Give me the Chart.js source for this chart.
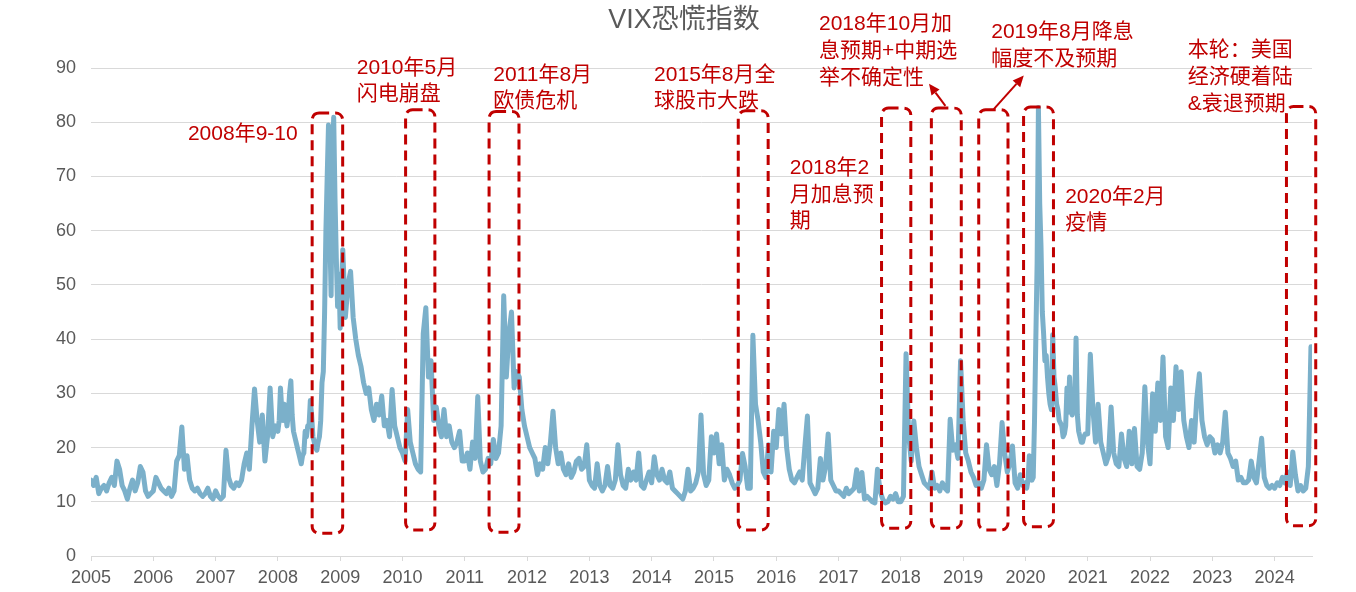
<!DOCTYPE html>
<html>
<head>
<meta charset="utf-8">
<title>VIX恐慌指数</title>
<script src="https://cdn.jsdelivr.net/npm/chart.js@4.4.1/dist/chart.umd.min.js"></script>
<style>
  html, body { margin: 0; padding: 0; background: #fff; }
  #wrap { width: 1356px; height: 592px; }
</style>
</head>
<body>
<div id="wrap"><canvas id="vixChart" width="1356" height="592"></canvas></div>
<script>
// VIX: two readings a month, weekly in the 2008 and 2020 crises
var years = [2005,2006,2007,2008,2009,2010,2011,2012,2013,2014,2015,2016,2017,2018,2019,2020,2021,2022,2023,2024]
var readingsPerYear = [24,24,24,48,24,24,24,24,24,24,24,24,24,24,24,48,24,24,24,24]
var vix2005 = [14,13,14.5,11.5,12.5,13,12,13.5,14.5,13,17.5,16,13,12,10.5,12.5,14,12,13.5,16.5,15.5,12,11,11.5]
var vix2006 = [12,14.5,13.5,12.5,12,11.5,12.5,11,12,17.5,18.5,23.8,16,18.5,14,12.5,12,12.5,11.5,11,11.5,12.5,11,10.5]
var vix2007 = [12,11,10.5,11,19.5,14.5,13,12.5,13.5,13,14,17,19,16,24,30.8,25,21,26,17.5,22,31,22,24]
var vix2008 = [23,25,31,27, 25,28,26,24, 26,30,32.3,26, 23,22,21,20, 19,18,17,18.5, 19,23,22,24,
               24,28.7,26,22, 21,20,19.5,21, 22,25,32,34, 45,60,70,79.5, 60,48,72,80.9, 66,55,46,52]
var vix2009 = [42,56.5,44,50,52.5,44,40,37,35,32,30,31,27,25,28,26,29.5,24,25,22,30.7,24,22,20]
var vix2010 = [19,17.5,27,21,19,17,16,15.5,41,45.8,33,36,25,27.5,24,22,27,22,24,21,20,21,23,17.5]
var vix2011 = [17.5,19,16,21,18,29.4,17.5,15.5,16,18,17,21.5,18,19,24,48,33,41,45,31,34,33,27,24]
var vix2012 = [22,20,19,18,15,17,16,20,17,21,26.7,20,17,19,16,15,17,14.5,15.5,17.5,18,16,16.5,20.5]
var vix2013 = [14,13,12.5,17,13,12,13,16.5,13,12.5,14,20.5,15,13,12.5,16,14,15.5,14,19,13,12.5,14,15.5]
var vix2014 = [13.5,18.3,15,14,16,14,13.5,15.5,12.5,12,11.5,11,10.5,12,16,12,12.5,13.5,15.5,26,15,13,14,22]
var vix2015 = [19,22.5,17,20.5,14,16,15,13.5,12.5,13,14,18.9,16.5,12.5,12.5,40.7,28,25,21,15.5,14.5,20.5,15.5,23]
var vix2016 = [20,27,22.5,28,20,16,14,13.5,14.5,15.5,14,20,25.8,13.5,12.5,11.5,12.5,18,14,16.5,22.5,14,13,12]
var vix2017 = [12,11.5,11,12.5,11.5,12,12.5,15.9,12,15.4,10.5,11,10.5,10,9.8,16,12,10.5,9.8,10,11,10.5,11.5,10]
var vix2018 = [10,11,37.3,22.5,17.5,24.9,20,16.5,15,13.5,13,12.5,15.5,12.5,13,12,13.5,12.5,12,25.2,19.5,20.5,18,36]
var vix2019 = [25,19,17.5,15.5,14.5,13,13.5,12.5,14,20.5,16,15,16.5,13,17,24.6,19,15.5,17,20.3,13.5,12.5,15,13]
var vix2020 = [13.5,12.5,14,18.5, 15,14,14.5,25, 40,54,82.7,65, 57,45,41,36, 37,33,30,28, 27,40.8,33,31,
               28,27,25,24.5, 24,22,22.5,24, 31,26.5,33,27, 26,27.5,29,40.2, 26,23,22,21, 21,22,22.5,22.5]
var vix2021 = [22.5,37.2,27,21,28,21,19,17,18.5,27.5,19,17,16.5,22.5,18,16.5,23,17,23.5,16.5,16,19,31.2,21]
var vix2022 = [17,29.9,23,31.9,25,36.7,22,20,31,25,34.9,27,34,25,22,20,25,21,29,33.6,25,22,20.5,22]
var vix2023 = [21.5,19,20.5,19,21,26.5,19,18,16.5,17.5,14,14.5,13.5,13.5,14,17.5,14.5,13.5,17.5,21.7,14.5,13,12.5,13]
var vix2024 = [12.5,13.5,13,14.5,13.5,15.5,13,19.2,15,12,13,12,12.5,16.5,38.6]
var vixByYear = [vix2005,vix2006,vix2007,vix2008,vix2009,vix2010,vix2011,vix2012,vix2013,vix2014,
                 vix2015,vix2016,vix2017,vix2018,vix2019,vix2020,vix2021,vix2022,vix2023,vix2024]
var yTicks = [0,10,20,30,40,50,60,70,80,90]

// event windows (years, index values) and their notes
var boxes = [
  { x0: 2008.55, x1: 2009.04, y0: 4.2, y1: 81.7 },
  { x0: 2010.05, x1: 2010.52, y0: 4.8, y1: 82.3 },
  { x0: 2011.39, x1: 2011.87, y0: 4.4, y1: 82.0 },
  { x0: 2015.39, x1: 2015.87, y0: 4.8, y1: 82.1 },
  { x0: 2017.69, x1: 2018.16, y0: 5.1, y1: 82.6 },
  { x0: 2018.49, x1: 2018.97, y0: 5.1, y1: 82.6 },
  { x0: 2019.25, x1: 2019.72, y0: 4.8, y1: 82.3 },
  { x0: 2019.97, x1: 2020.45, y0: 5.4, y1: 82.8 },
  { x0: 2024.19, x1: 2024.66, y0: 5.6, y1: 82.9 }
]
var notes = [
  { x: 2006.556, y: 77.7, lines: ['2008年9-10'] },
  { x: 2009.266, y: 90.0, lines: ['2010年5月', '闪电崩盘'] },
  { x: 2011.457, y: 88.7, lines: ['2011年8月', '欧债危机'] },
  { x: 2014.039, y: 88.7, lines: ['2015年8月全', '球股市大跌'] },
  { x: 2016.216, y: 71.5, lines: ['2018年2', '月加息预', '期'] },
  { x: 2016.686, y: 98.0, lines: ['2018年10月加', '息预期+中期选', '举不确定性'] },
  { x: 2019.451, y: 96.6, lines: ['2019年8月降息', '幅度不及预期'] },
  { x: 2020.638, y: 66.2, lines: ['2020年2月', '疫情'] },
  { x: 2022.604, y: 93.2, lines: ['本轮：美国', '经济硬着陆', '&衰退预期'] }
]
var arrows = [
  { from: [2018.715, 83.0], to: [2018.452, 87.1] },
  { from: [2019.492, 82.4], to: [2019.973, 88.6] }
]

var RED = '#c00000'
var FONT = '"Liberation Sans", Arial, "Noto Sans CJK SC", sans-serif'

var points = []
years.forEach(function(yr, k){
  var n = readingsPerYear[k]
  vixByYear[k].forEach(function(v, i){ points.push({ x: yr + i / n, y: v }) })
})

var annotations = {
  id: 'vixNotes',
  afterDatasetsDraw: function(chart){
    var ctx = chart.ctx
    var xs = chart.scales.x
    var ys = chart.scales.y
    ctx.save()

    // dashed windows
    ctx.strokeStyle = RED
    ctx.lineWidth = 3
    ctx.setLineDash([10, 6])
    boxes.forEach(function(b){
      var l = xs.getPixelForValue(b.x0), r = xs.getPixelForValue(b.x1)
      var t = ys.getPixelForValue(b.y1), btm = ys.getPixelForValue(b.y0)
      ctx.beginPath()
      ctx.roundRect(l, t, r - l, btm - t, 7)
      ctx.stroke()
    })
    ctx.setLineDash([])

    // arrows
    ctx.lineWidth = 2
    ctx.fillStyle = RED
    arrows.forEach(function(a){
      var x1 = xs.getPixelForValue(a.from[0]), y1 = ys.getPixelForValue(a.from[1])
      var x2 = xs.getPixelForValue(a.to[0]), y2 = ys.getPixelForValue(a.to[1])
      var ang = Math.atan2(y2 - y1, x2 - x1)
      var hl = 11, hw = 5
      var bx = x2 - hl * Math.cos(ang), by = y2 - hl * Math.sin(ang)
      ctx.beginPath()
      ctx.moveTo(x1, y1)
      ctx.lineTo(bx, by)
      ctx.stroke()
      ctx.beginPath()
      ctx.moveTo(x2, y2)
      ctx.lineTo(bx + hw * Math.sin(ang), by - hw * Math.cos(ang))
      ctx.lineTo(bx - hw * Math.sin(ang), by + hw * Math.cos(ang))
      ctx.closePath()
      ctx.fill()
    })

    // notes
    ctx.font = '21px ' + FONT
    ctx.textAlign = 'left'
    ctx.textBaseline = 'middle'
    notes.forEach(function(n){
      var px = xs.getPixelForValue(n.x), py = ys.getPixelForValue(n.y)
      n.lines.forEach(function(line, i){ ctx.fillText(line, px, py + i * 26.6) })
    })

    // title
    ctx.fillStyle = '#595959'
    ctx.font = '27px ' + FONT
    ctx.textAlign = 'center'
    ctx.fillText('VIX恐慌指数', 684, 21)
    ctx.restore()
  }
}

new Chart(document.getElementById('vixChart'), {
  type: 'line',
  data: {
    datasets: [{
      label: 'VIX',
      data: points,
      borderColor: '#7bb0ca',
      borderWidth: 5,
      pointRadius: 0,
      tension: 0,
      borderJoinStyle: 'round',
      borderCapStyle: 'round'
    }]
  },
  options: {
    responsive: false,
    animation: false,
    devicePixelRatio: 1,
    layout: { padding: { top: 68, right: 44, left: 0, bottom: 0 } },
    plugins: { legend: { display: false }, tooltip: { enabled: false }, title: { display: false } },
    scales: {
      x: {
        type: 'linear',
        min: 2005,
        max: 2024.6,
        afterBuildTicks: function(s){ s.ticks = years.map(function(y){ return { value: y } }) },
        afterFit: function(s){ s.height = 36 },
        grid: { drawOnChartArea: false, drawTicks: true, tickLength: 5, color: '#d9d9d9' },
        border: { display: true, color: '#d9d9d9', width: 1 },
        ticks: {
          color: '#595959', padding: 6, maxRotation: 0, autoSkip: false,
          font: { family: FONT, size: 18 },
          callback: function(v){ return String(v) }
        }
      },
      y: {
        min: 0,
        max: 90,
        afterBuildTicks: function(s){ s.ticks = yTicks.map(function(v){ return { value: v } }) },
        afterFit: function(s){ s.width = 91 },
        grid: { color: '#d9d9d9', lineWidth: 1, drawTicks: false },
        border: { display: false },
        ticks: { color: '#595959', padding: 15, font: { family: FONT, size: 18 } }
      }
    }
  },
  plugins: [annotations]
})
</script>
</body>
</html>
